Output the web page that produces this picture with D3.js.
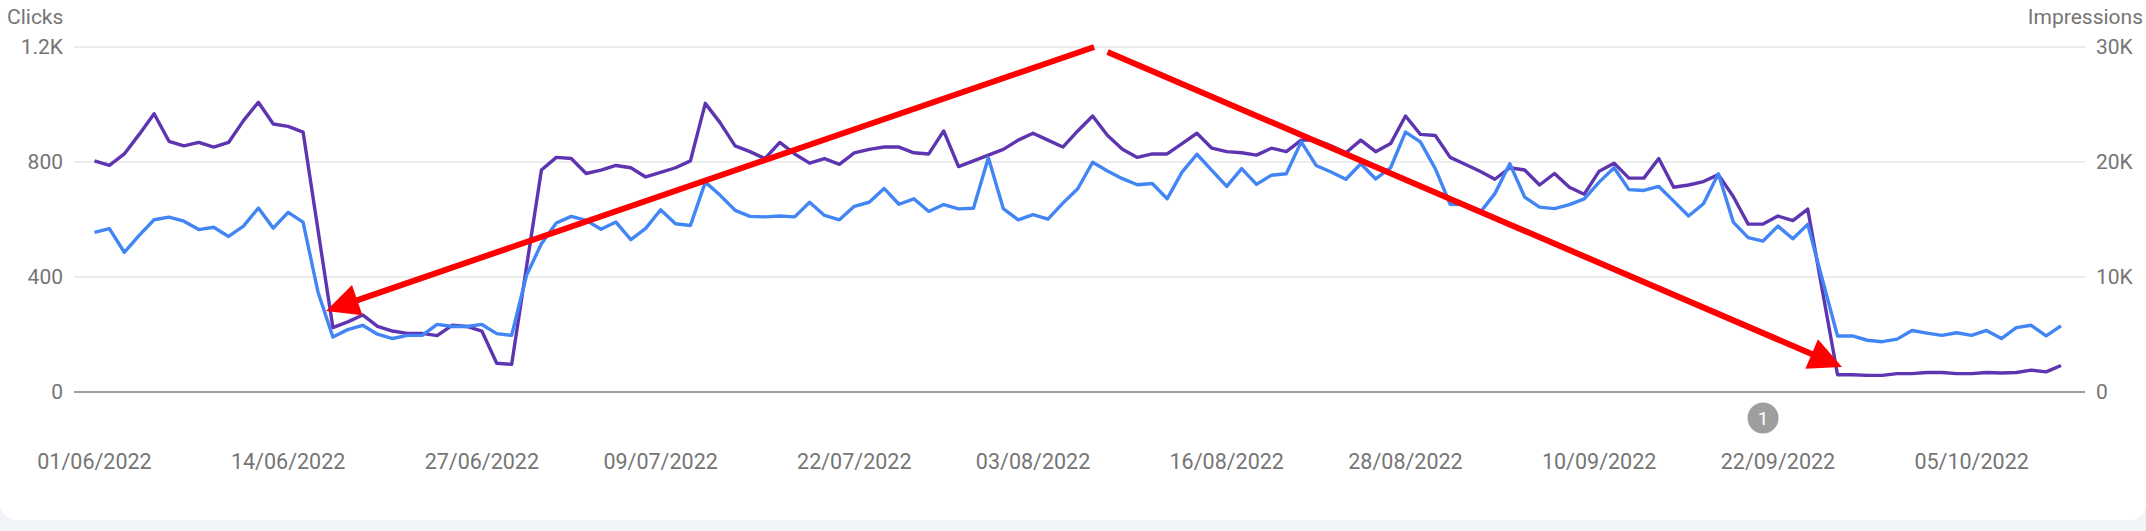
<!DOCTYPE html>
<html>
<head>
<meta charset="utf-8">
<script src="https://cdn.jsdelivr.net/npm/d3@7"></script>
<style>
  html, body { margin: 0; padding: 0; background: #f0f4f9; overflow: hidden; }
  svg { display: block; font-family: Roboto, "Noto Sans", sans-serif; }
</style>
</head>
<body>
<svg width="2146" height="531"></svg>
<script>
// daily values, 01/06/2022 .. 11/10/2022
const startDate = new Date(Date.UTC(2022, 5, 1));

const clicks = [
  555, 568, 486, 545, 599, 608, 594, 565, 573, 541, 577, 640, 570, 625, 591, 348,
  191, 217, 232, 201, 186, 197, 197, 235, 228, 228, 235, 203, 197, 406, 516, 588,
  611, 597, 566, 591, 530, 569, 634, 585, 579, 730, 684, 632, 611, 609, 612, 609,
  660, 614, 599, 646, 660, 708, 653, 672, 628, 652, 637, 639, 815, 638, 599, 617,
  601, 657, 707, 799, 769, 742, 721, 725, 672, 765, 827, 771, 715, 777, 722, 754,
  759, 870, 788, 765, 740, 794, 741, 780, 904, 870, 777, 653, 652, 624, 690, 794,
  678, 643, 638, 652, 672, 730, 780, 704, 701, 715, 664, 612, 655, 759, 591, 537,
  525, 577, 533, 583, 388, 195, 195, 180, 175, 184, 214, 205, 197, 206, 197, 214,
  186, 224, 232, 195, 230
];

const impressions = [
  20100, 19700, 20700, 22400, 24200, 21800, 21400, 21700, 21300, 21700, 23600, 25200,
  23300, 23100, 22600, 14100, 5600, 6100, 6700, 5700, 5300, 5100, 5100, 4900,
  5800, 5700, 5300, 2500, 2400, 10900, 19300, 20400, 20300, 19000, 19300, 19700,
  19500, 18700, 19100, 19500, 20100, 25100, 23400, 21400, 20900, 20300, 21700, 20700,
  19900, 20300, 19800, 20800, 21100, 21300, 21300, 20800, 20700, 22700, 19600, 20100,
  20600, 21100, 21900, 22500, 21900, 21300, 22700, 24000, 22300, 21100, 20400, 20700,
  20700, 21600, 22500, 21200, 20900, 20800, 20600, 21200, 20900, 21900, 21900, 21400,
  20800, 21900, 20900, 21600, 24000, 22400, 22300, 20400, 19800, 19200, 18500, 19500,
  19300, 18000, 19000, 17800, 17200, 19200, 19900, 18600, 18600, 20300, 17800, 18000,
  18300, 18900, 17000, 14600, 14600, 15300, 14900, 15900, 8700, 1500, 1500, 1450,
  1450, 1600, 1600, 1700, 1700, 1600, 1600, 1700, 1650, 1700, 1900, 1750, 2300
];

const xTickLabels = ["01/06/2022", "14/06/2022", "27/06/2022", "09/07/2022", "22/07/2022",
  "03/08/2022", "16/08/2022", "28/08/2022", "10/09/2022", "22/09/2022", "05/10/2022"];
const clickTicks = [0, 400, 800, 1200];
const impressionTicks = [0, 10000, 20000, 30000];

// red annotation arrows: [day offset from start, clicks scale value]
const arrows = [
  { from: [67.1, 1200], to: [15.54, 282] },
  { from: [68.0, 1183], to: [117.3, 87] }
];
const annotationDay = 112;   // grey "1" marker

const svg = d3.select("svg"),
      width = 2146,
      height = 531;

const parseDay = d3.utcParse("%d/%m/%Y");
const dayToDate = n => new Date(startDate.getTime() + n * 864e5);
const dates = clicks.map((_, i) => d3.utcDay.offset(startDate, i));

const x = d3.scaleUtc()
    .domain([startDate, dates[dates.length - 1]])
    .range([94.5, 2061]);

const yClicks = d3.scaleLinear().domain([0, 1200]).range([392, 47]);
const yImpr = d3.scaleLinear().domain([0, 30000]).range([392, 47]);

// card
svg.append("rect")
    .attr("x", 0).attr("y", -30)
    .attr("width", width).attr("height", 550)
    .attr("rx", 16)
    .attr("fill", "#fff");

const plotLeft = 74, plotRight = 2085;

// gridlines
svg.append("g")
    .selectAll("line")
    .data(clickTicks)
    .enter().append("line")
    .attr("x1", plotLeft).attr("x2", plotRight)
    .attr("y1", d => yClicks(d)).attr("y2", d => yClicks(d))
    .attr("stroke", d => d === 0 ? "#9e9e9e" : "#ececec")
    .attr("stroke-width", 2);

// left axis labels
svg.append("g")
    .selectAll("text")
    .data(clickTicks)
    .enter().append("text")
    .attr("x", 63)
    .attr("y", d => yClicks(d))
    .attr("dy", "0.35em")
    .attr("text-anchor", "end")
    .attr("fill", "#757575")
    .style("font-size", "21px")
    .text(d => d === 0 ? "0" : d3.format(".2~s")(d).replace("k", "K"));

// right axis labels
svg.append("g")
    .selectAll("text")
    .data(impressionTicks)
    .enter().append("text")
    .attr("x", 2096)
    .attr("y", d => yImpr(d))
    .attr("dy", "0.35em")
    .attr("fill", "#757575")
    .style("font-size", "21px")
    .text(d => d === 0 ? "0" : d3.format("~s")(d).replace("k", "K"));

svg.append("text")
    .attr("x", 7).attr("y", 24)
    .attr("fill", "#757575")
    .style("font-size", "21px")
    .text("Clicks");

svg.append("text")
    .attr("x", 2143).attr("y", 24)
    .attr("text-anchor", "end")
    .attr("fill", "#757575")
    .style("font-size", "21px")
    .text("Impressions");

// x labels
svg.append("g")
    .selectAll("text")
    .data(xTickLabels)
    .enter().append("text")
    .attr("x", d => x(parseDay(d)))
    .attr("y", 469)
    .attr("text-anchor", "middle")
    .attr("fill", "#757575")
    .style("font-size", "21.5px")
    .text(d => d);

// lines
const imprLine = d3.line()
    .x((d, i) => x(dates[i]))
    .y(d => yImpr(d));

const clickLine = d3.line()
    .x((d, i) => x(dates[i]))
    .y(d => yClicks(d));

svg.append("path")
    .datum(impressions)
    .attr("d", imprLine)
    .attr("fill", "none")
    .attr("stroke", "#5e35b1")
    .attr("stroke-width", 3.4)
    .attr("stroke-linejoin", "round");

svg.append("path")
    .datum(clicks)
    .attr("d", clickLine)
    .attr("fill", "none")
    .attr("stroke", "#4285f4")
    .attr("stroke-width", 3.4)
    .attr("stroke-linejoin", "round");

// annotation marker
const marker = svg.append("g")
    .attr("transform", `translate(${x(d3.utcDay.offset(startDate, annotationDay))},418)`);
marker.append("circle")
    .attr("r", 15.5)
    .attr("fill", "#9e9e9e");
marker.append("text")
    .attr("dy", "0.36em")
    .attr("text-anchor", "middle")
    .attr("fill", "#fff")
    .style("font-size", "19px")
    .text("1");

// red arrows
const headLen = 33, headHalf = 16;
arrows.forEach(a => {
    const x0 = x(dayToDate(a.from[0])), y0 = yClicks(a.from[1]);
    const x1 = x(dayToDate(a.to[0])), y1 = yClicks(a.to[1]);
    const len = Math.hypot(x1 - x0, y1 - y0);
    const ux = (x1 - x0) / len, uy = (y1 - y0) / len;
    const bx = x1 - ux * headLen, by = y1 - uy * headLen;

    svg.append("line")
        .attr("x1", x0).attr("y1", y0)
        .attr("x2", bx + ux * 2).attr("y2", by + uy * 2)
        .attr("stroke", "#ff0000")
        .attr("stroke-width", 6);

    svg.append("polygon")
        .attr("points", [
            [x1, y1],
            [bx - uy * headHalf, by + ux * headHalf],
            [bx + uy * headHalf, by - ux * headHalf]
        ].map(p => p.join(",")).join(" "))
        .attr("fill", "#ff0000");
});
</script>
</body>
</html>
